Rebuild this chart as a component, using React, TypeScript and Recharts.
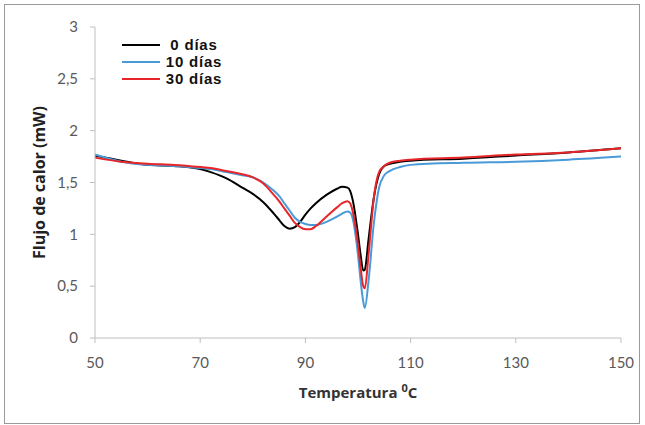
import { LineChart, Line, XAxis, YAxis, Label } from "recharts"

// Temperature (°C) at which every curve was read
const temps = [
  50, 55, 60, 65, 70, 72, 75, 78, 80, 82, 84, 85, 86, 87, 88, 89, 90, 91, 92, 94, 96, 97, 98, 98.5, 99, 100, 100.5, 101,
  101.3, 102, 103, 104, 105, 106, 108, 110, 120, 130, 140, 150,
]

// Heat flow (mW)
const dias0 = [
  1.76, 1.71, 1.67, 1.66, 1.63, 1.6, 1.54, 1.45, 1.39, 1.31, 1.2, 1.14, 1.08, 1.055, 1.07, 1.12, 1.19, 1.25, 1.3, 1.38,
  1.44, 1.46, 1.45, 1.42, 1.33, 1.0, 0.8, 0.65, 0.66, 0.95, 1.35, 1.58, 1.66, 1.68, 1.7, 1.71, 1.73, 1.76, 1.79, 1.83,
]
const dias10 = [
  1.77, 1.7, 1.67, 1.66, 1.64, 1.63, 1.6, 1.57, 1.55, 1.5, 1.42, 1.37, 1.3, 1.23, 1.16, 1.12, 1.1, 1.09, 1.09, 1.12,
  1.17, 1.2, 1.22, 1.21, 1.15, 0.8, 0.55, 0.35, 0.29, 0.55, 1.1, 1.45, 1.57, 1.61, 1.65, 1.67, 1.69, 1.7, 1.72, 1.75,
]
const dias30 = [
  1.74, 1.7, 1.68, 1.67, 1.65, 1.64, 1.61, 1.58, 1.55, 1.49, 1.38, 1.32, 1.25, 1.18, 1.11, 1.07, 1.05, 1.05, 1.08, 1.17,
  1.26, 1.3, 1.32, 1.3, 1.22, 0.9, 0.68, 0.5, 0.48, 0.8, 1.35, 1.6, 1.66, 1.69, 1.71, 1.72, 1.74, 1.77, 1.79, 1.83,
]

const xTicks = [50, 70, 90, 110, 130, 150]
const yTicks = [0, 0.5, 1, 1.5, 2, 2.5, 3]

const series = [
  { key: "d0", name: "0 días", color: "#000000" },
  { key: "d10", name: "10 días", color: "#4a9ad8" },
  { key: "d30", name: "30 días", color: "#e8262a" },
]

const data = temps.map((t, i) => ({ t, d0: dias0[i], d10: dias10[i], d30: dias30[i] }))

const tickStyle = { fontFamily: "Lato, 'Open Sans', sans-serif", fontSize: 15, fill: "#595959" }
const axisColor = "#bfbfbf"

// legend sits inside the plot, top-left, like the Excel original
function LegendBox() {
  return (
    <div
      style={{
        position: "absolute",
        left: 122,
        top: 36,
        fontFamily: "'Liberation Sans', Arial, sans-serif",
        fontWeight: "bold",
        fontSize: 15,
        letterSpacing: 0.8,
        color: "#111",
      }}
    >
      {series.map((s) => (
        <div key={s.key} style={{ display: "flex", alignItems: "center", height: 17 }}>
          <svg width={38} height={4}>
            <line x1={0} y1={2} x2={38} y2={2} stroke={s.color} strokeWidth={2} />
          </svg>
          <span style={{ width: 68, textAlign: "center" }}>{s.name}</span>
        </div>
      ))}
    </div>
  )
}

function XTitle({ viewBox }: any) {
  const cx = viewBox.x + viewBox.width / 2
  return (
    <text
      x={cx}
      y={398}
      textAnchor="middle"
      fontFamily="'Open Sans', sans-serif"
      fontWeight="bold"
      fontSize={15}
      fill="#333"
    >
      Temperatura{" "}
      <tspan dy={-6} fontSize={11}>
        0
      </tspan>
      <tspan dy={6}>C</tspan>
    </text>
  )
}

export default function App() {
  return (
    <div style={{ position: "absolute", left: 0, top: 0, width: 645, height: 425, background: "#fff" }}>
      <div
        style={{
          position: "absolute",
          left: 4,
          top: 4,
          width: 636,
          height: 420,
          border: "1px solid #9a9a9a",
          boxSizing: "border-box",
        }}
      />
      <LineChart width={645} height={425} data={data} margin={{ top: 27, right: 24, bottom: 57, left: 45 }}>
        <XAxis
          dataKey="t"
          type="number"
          domain={[50, 150]}
          ticks={xTicks}
          height={30}
          stroke={axisColor}
          tickSize={5}
          tickMargin={14}
          tick={tickStyle}
          label={<XTitle />}
        />
        <YAxis
          type="number"
          domain={[0, 3]}
          ticks={yTicks}
          width={50}
          stroke={axisColor}
          tickSize={5}
          tickMargin={12}
          tick={tickStyle}
          tickFormatter={(v: number) => String(v).replace(".", ",")}
        >
          <Label
            value="Flujo de calor (mW)"
            angle={-90}
            position="insideLeft"
            offset={-6}
            style={{
              textAnchor: "middle",
              fontFamily: "'Open Sans', sans-serif",
              fontWeight: "bold",
              fontSize: 16,
              fill: "#222",
            }}
          />
        </YAxis>
        {series.map((s) => (
          <Line
            key={s.key}
            dataKey={s.key}
            name={s.name}
            type="monotone"
            stroke={s.color}
            strokeWidth={2}
            dot={false}
            isAnimationActive={false}
          />
        ))}
      </LineChart>
      <LegendBox />
    </div>
  )
}
